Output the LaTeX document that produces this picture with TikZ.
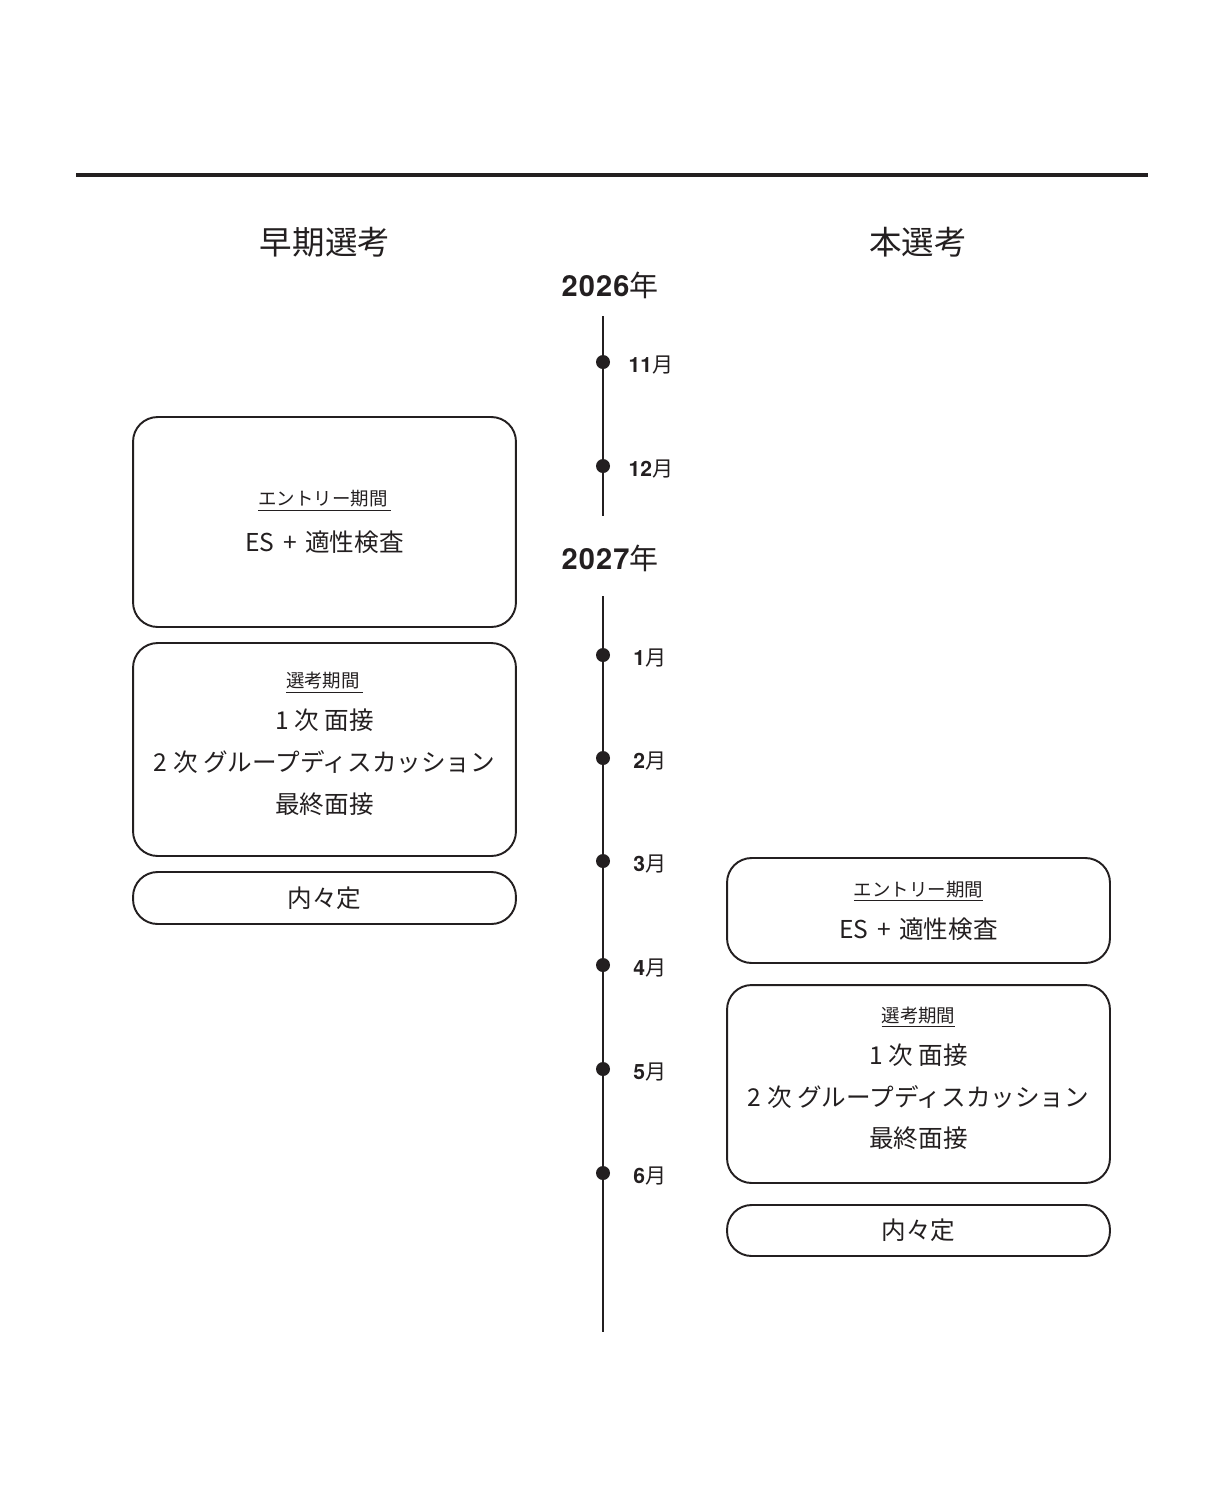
\documentclass[tikz,border=0pt]{standalone}
\usepackage{fontspec}
\setmainfont{Noto Sans CJK JP}
\newfontfamily\yeardigits[LetterSpace=4]{TeX Gyre Heros}
\newfontfamily\monthdigits{TeX Gyre Heros}
\usepackage{tikz}
\usetikzlibrary{positioning}
\definecolor{ink}{HTML}{231F20}

\begin{document}
\begin{tikzpicture}[
    x=0.02cm, y=-0.02cm,
    every node/.style={text=ink},
    period/.style={draw=ink, line width=1.1pt, rounded corners=14pt,
        minimum width=7.66cm, inner sep=0pt, align=center,
        font=\fontsize{14}{23.8}\selectfont},
    heading/.style={font=\fontsize{18.5}{22}\selectfont},
    yearlabel/.style={font=\fontsize{16.5}{20}\selectfont},
    month/.style={font=\fontsize{12}{14}\selectfont, inner sep=0pt, label distance=0.36cm,
        text width=0.84cm, align=center, yshift=-1.5pt},
    dot/.style={circle, fill=ink, inner sep=0pt, minimum size=0.28cm},
    axis/.style={draw=ink, line width=1.1pt}
]
    \useasboundingbox (0,0) rectangle (1225,1509);

    % Top rule and column titles:
    \coordinate (ruleL) at (76,175);
    \coordinate (ruleR) at (1148,175);
    \draw[ink, line width=2.3pt] (ruleL) -- (ruleR);
    \node[heading] (early) at (325,242) {早期選考};
    \node[heading] (main) at (918,242) {本選考};

    % Timeline:
    \node[yearlabel] (y2026) at (610,285) {{\yeardigits\bfseries 2026}年};
    \node[yearlabel] (y2027) at (610,558) {{\yeardigits\bfseries 2027}年};
    \coordinate (a0) at (603,316);
    \coordinate (a1) at (603,516);
    \coordinate (b0) at (603,596);
    \coordinate (b1) at (603,1332);
    \path[axis] (a0) -- (a1);
    \path[axis] (b0) -- (b1);
    \node[dot, label={[month]right:{\monthdigits\bfseries 11}月}] (m11) at (603,362) {};
    \node[dot, label={[month]right:{\monthdigits\bfseries 12}月}] (m12) at (603,466) {};
    \node[dot, label={[month]right:{\monthdigits\bfseries 1}月}] (m1) at (603,655) {};
    \node[dot, label={[month]right:{\monthdigits\bfseries 2}月}] (m2) at (603,758) {};
    \node[dot, label={[month]right:{\monthdigits\bfseries 3}月}] (m3) at (603,861) {};
    \node[dot, label={[month]right:{\monthdigits\bfseries 4}月}] (m4) at (603,965) {};
    \node[dot, label={[month]right:{\monthdigits\bfseries 5}月}] (m5) at (603,1069) {};
    \node[dot, label={[month]right:{\monthdigits\bfseries 6}月}] (m6) at (603,1173) {};

    % Early selection boxes:
    \node[period, minimum height=4.2cm] (eEntry) at (324.5,522)
        {{\fontsize{10.5}{12}\selectfont\underline{エントリー期間\,}}\\[2pt]ES\hspace{0.35em}+\hspace{0.35em}適性検査};
    \node[period, minimum height=4.26cm, text depth=7.5pt] (eSelect) at (324.5,749.5)
        {{\fontsize{10.5}{12}\selectfont\underline{選考期間\,}}\\1 次 面接\\2 次 グループディスカッション\\最終面接};
    \node[period, minimum height=1.04cm] (eOffer) at (324.5,898) {内々定};

    % Main selection boxes:
    \node[period, minimum height=2.1cm] (mEntry) at (918.5,910.5)
        {{\fontsize{10.5}{12}\selectfont\underline{エントリー期間}}\\ES\hspace{0.35em}+\hspace{0.35em}適性検査};
    \node[period, minimum height=3.96cm, text depth=7.5pt] (mSelect) at (918.5,1084)
        {{\fontsize{10.5}{12}\selectfont\underline{選考期間}}\\1 次 面接\\2 次 グループディスカッション\\最終面接};
    \node[period, minimum height=1.02cm] (mOffer) at (918.5,1230.5) {内々定};
\end{tikzpicture}
\end{document}
